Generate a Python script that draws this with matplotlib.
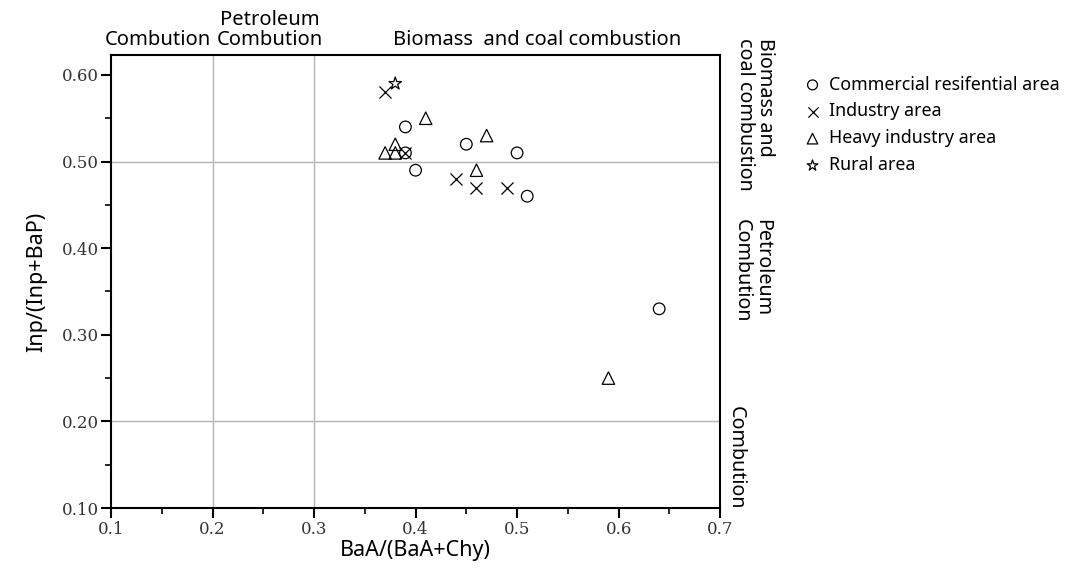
import matplotlib
matplotlib.use("Agg")
import matplotlib.pyplot as plt
from matplotlib.ticker import MultipleLocator, FormatStrFormatter

# data (BaA/(BaA+Chy), Inp/(Inp+BaP))
commercial_x = [0.39, 0.45, 0.50, 0.40, 0.51, 0.64, 0.39]
commercial_y = [0.54, 0.52, 0.51, 0.49, 0.46, 0.33, 0.51]
industry_x = [0.37, 0.44, 0.46, 0.49, 0.39]
industry_y = [0.58, 0.48, 0.47, 0.47, 0.51]
heavy_x = [0.41, 0.47, 0.37, 0.38, 0.38, 0.46, 0.59]
heavy_y = [0.55, 0.53, 0.51, 0.52, 0.51, 0.49, 0.25]
rural_x = [0.38]
rural_y = [0.59]

x_thresholds = [0.2, 0.3]
y_thresholds = [0.5, 0.2]

SANS = "Noto Sans"
SERIF = "DejaVu Serif"
GRAY = "#b4b4b4"

fig = plt.figure(figsize=(10.77, 5.75), dpi=100)
ax = fig.add_axes([0.1031, 0.1165, 0.5655, 0.7878])

for xv in x_thresholds:
    ax.axvline(xv, color=GRAY, lw=1, zorder=1)
for yv in y_thresholds:
    ax.axhline(yv, color=GRAY, lw=1, zorder=1)

mk = dict(facecolors="none", edgecolors="black", linewidths=0.9, zorder=3)
ax.scatter(commercial_x, commercial_y, marker="o", s=70, label="Commercial resifential area", **mk)
ax.scatter(industry_x, industry_y, marker="x", s=75, color="black", linewidths=0.9,
           zorder=3, label="Industry area")
ax.scatter(heavy_x, heavy_y, marker="^", s=80, label="Heavy industry area", **mk)
ax.scatter(rural_x, rural_y, marker="*", s=90, label="Rural area", **mk)

ax.set_xlim(0.1, 0.7)
ax.set_ylim(0.1, 0.623)
ax.xaxis.set_major_locator(MultipleLocator(0.1))
ax.xaxis.set_minor_locator(MultipleLocator(0.05))
ax.yaxis.set_major_locator(MultipleLocator(0.1))
ax.yaxis.set_minor_locator(MultipleLocator(0.05))
ax.xaxis.set_major_formatter(FormatStrFormatter("%.1f"))
ax.yaxis.set_major_formatter(FormatStrFormatter("%.2f"))
ax.tick_params(which="major", direction="out", length=7, width=1.5, top=False, right=False, pad=2)
ax.tick_params(which="minor", direction="out", length=4, width=1.2, top=False, right=False)
for lab in ax.get_xticklabels() + ax.get_yticklabels():
    lab.set_fontfamily(SERIF)
    lab.set_fontsize(12)
    lab.set_color("#333333")
for sp in ax.spines.values():
    sp.set_linewidth(1.5)

ax.set_xlabel("BaA/(BaA+Chy)", fontfamily=SANS, fontsize=15.5, labelpad=2)
ax.set_ylabel("Inp/(Inp+BaP)", fontfamily=SANS, fontsize=15.5, labelpad=10)

# region labels on top
top = dict(transform=ax.transAxes, fontfamily=SANS, fontsize=14.5, ha="center", va="bottom",
           linespacing=1.0)
ax.text(0.077, 1.012, "Combution", **top)
ax.text(0.261, 1.012, "Petroleum\nCombution", **top)
ax.text(0.700, 1.012, "Biomass  and coal combustion", **top)

# region labels on the right
side = dict(transform=ax.transAxes, fontfamily=SANS, fontsize=14.2, rotation=-90,
            ha="left", va="center", linespacing=1.0)
ax.text(1.024, 0.868, "Biomass and\ncoal combustion", **side)
ax.text(1.019, 0.523, "Petroleum\nCombution", **side)
ax.text(1.010, 0.110, "Combution", **side)

leg = ax.legend(loc="upper left", bbox_to_anchor=(1.108, 0.99), frameon=False,
                prop={"family": SANS, "size": 12.8}, handletextpad=0.35,
                labelspacing=0.5, markerscale=0.85, handlelength=1.2)

fig.savefig("out.png", dpi=100, facecolor="white")
